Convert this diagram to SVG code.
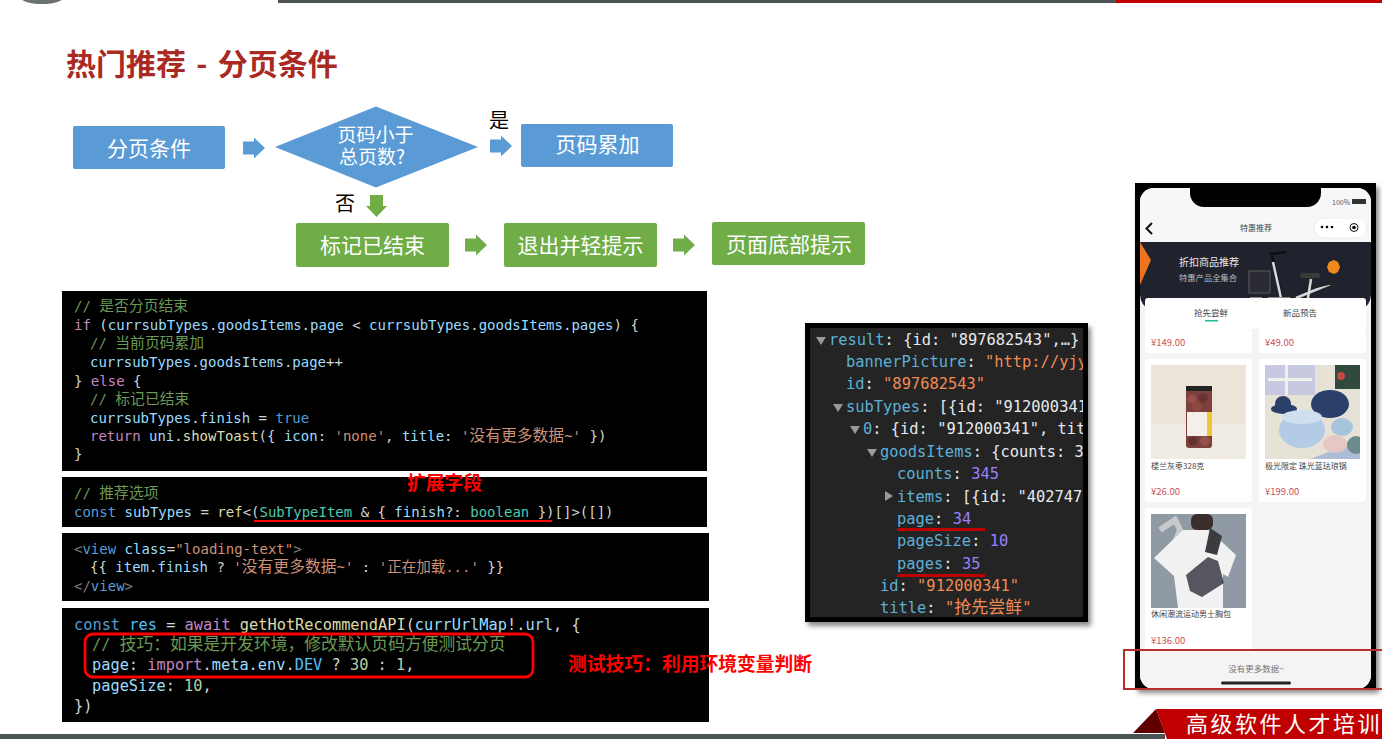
<svg xmlns="http://www.w3.org/2000/svg" width="1382" height="739" viewBox="0 0 1382 739">
<style>
text{font-family:"Noto Sans CJK SC","Noto Sans",sans-serif}
.b{fill:#5b9bd5}.g{fill:#70ad47}
.l{fill:#fff;font-size:21px;text-anchor:middle}
.c,.d{fill:#d4d4d4}
.c text,.d text{font-family:"DejaVu Sans Mono","Noto Sans CJK SC",monospace}
.c1 text{font-size:14px}.c3 text{font-size:15.300px}
.d text{font-size:15.400px}
.z1{font-size:14.800px}.z2{font-size:15.800px}.z3{font-size:14.500px}.z4{font-size:16.800px}.z5{font-size:17px}
.cm{fill:#6a9955}.v{fill:#9cdcfe}.k{fill:#c586c0}.s{fill:#ce9178}.bl{fill:#569cd6}.t{fill:#4ec9b0}.f{fill:#dcdcaa}.n{fill:#b5cea8}.vb{fill:#4fc1ff}.gr{fill:#808080}
.dk{fill:#5db0d7}.ds{fill:#f28b54}.dn{fill:#9980ff}.dw{fill:#e8eaed}
.red{fill:#f00;font-size:18.800px;font-weight:700}
.ph{font-size:8px;fill:#444}.pr{font-size:9.500px;fill:#cf4f55}
.arrowb{fill:#5b9bd5}
</style>
<defs>
<path id="ar" d="M0 -6.500H11V-10.500L22 0L11 10.500V6.500H0Z"/>
<filter id="sh" x="-10%" y="-10%" width="120%" height="120%"><feGaussianBlur stdDeviation="2.500"/></filter>
<filter id="soft" x="-5%" y="-5%" width="110%" height="110%"><feGaussianBlur stdDeviation="0.700"/></filter>
<clipPath id="dc"><rect x="810" y="328" width="273" height="289"/></clipPath>
<clipPath id="bc"><path d="M1140 242H1371V295a18 18 0 0 1 -10 15H1150a18 18 0 0 1 -10-15Z"/></clipPath>
<clipPath id="i1"><rect x="1151" y="365" width="95" height="94"/></clipPath>
<clipPath id="i2"><rect x="1265" y="365" width="95" height="94"/></clipPath>
<clipPath id="i3"><rect x="1151" y="514" width="95" height="94"/></clipPath>
</defs>
<rect width="1382" height="739" fill="#fff"/>
<g id="top-bar"><ellipse cx="42" cy="-4" rx="23" ry="8" fill="#6b7070"/><rect x="278" width="838" height="3" fill="#4d5454"/><rect x="1116" width="266" height="3" fill="#c00000"/></g>
<text id="title" x="66" y="75" font-size="30" font-weight="700" word-spacing="3.500" fill="#a92a22">热门推荐 - 分页条件</text>

<g id="connectors">
<use href="#ar" class="b" x="243" y="148"/>
<use href="#ar" class="b" x="490" y="146"/>
<use href="#ar" class="g" transform="translate(376.500,195) rotate(90)"/>
<use href="#ar" class="g" x="465" y="245"/>
<use href="#ar" class="g" x="673" y="245"/>
</g>
<g id="n-cond"><rect class="b" x="73" y="126" width="152" height="43" rx="2"/><text class="l" x="149" y="155.500">分页条件</text></g>
<g id="n-decision"><path class="b" d="M275 147L376 106.500L478 147L376 187.500Z"/><text class="l" style="font-size:19px"><tspan x="375.500" y="141.500">页码小于</tspan><tspan x="372" y="164">总页数?</tspan></text></g>
<g id="n-inc"><rect class="b" x="521" y="124" width="152" height="43" rx="2"/><text class="l" x="597.500" y="151.500">页码累加</text></g>
<g id="n-mark"><rect class="g" x="296" y="223" width="153" height="44" rx="2"/><text class="l" x="372.500" y="252.500">标记已结束</text></g>
<g id="n-exit"><rect class="g" x="504" y="223" width="153" height="44" rx="2"/><text class="l" x="580.500" y="252.500">退出并轻提示</text></g>
<g id="n-bottom"><rect class="g" x="712" y="222" width="153" height="43" rx="2"/><text class="l" x="789" y="251.500">页面底部提示</text></g>
<text id="yes" x="499" y="128" font-size="20" text-anchor="middle">是</text>
<text id="no" x="345" y="211" font-size="20" text-anchor="middle">否</text>

<g id="code-1" class="c c1"><rect x="62" y="291" width="645" height="180" fill="#000"/>
<text x="74" y="311" class="cm">// <tspan class="z1">是否分页结束</tspan></text>
<text x="74" y="330"><tspan class="k">if</tspan> (<tspan class="v">currsubTypes</tspan>.<tspan class="v">goodsItems</tspan>.<tspan class="v">page</tspan> &lt; <tspan class="v">currsubTypes</tspan>.<tspan class="v">goodsItems</tspan>.<tspan class="v">pages</tspan>) {</text>
<text x="90" y="348" class="cm">// <tspan class="z1">当前页码累加</tspan></text>
<text x="90" y="367"><tspan class="v">currsubTypes</tspan>.<tspan class="v">goodsItems</tspan>.<tspan class="v">page</tspan>++</text>
<text x="74" y="386">} <tspan class="k">else</tspan> {</text>
<text x="90" y="404" class="cm">// <tspan class="z1">标记已结束</tspan></text>
<text x="90" y="423"><tspan class="v">currsubTypes</tspan>.<tspan class="v">finish</tspan> = <tspan class="bl">true</tspan></text>
<text x="90" y="441"><tspan class="k">return</tspan> <tspan class="v">uni</tspan>.<tspan class="f">showToast</tspan>({ <tspan class="v">icon</tspan>: <tspan class="s">'none'</tspan>, <tspan class="v">title</tspan>: <tspan class="s">'<tspan class="z2">没有更多数据</tspan>~'</tspan> })</text>
<text x="74" y="459">}</text></g>

<g id="code-2" class="c c1"><rect x="62" y="477" width="645" height="50" fill="#000"/>
<text x="74" y="498" class="cm">// <tspan class="z1">推荐选项</tspan></text>
<text x="74" y="517"><tspan class="bl">const</tspan> <tspan class="v">subTypes</tspan> = <tspan class="f">ref</tspan>&lt;(<tspan class="t">SubTypeItem</tspan> &amp; { <tspan class="v">finish</tspan>?: <tspan class="t">boolean</tspan> })[]&gt;([])</text>
<path d="M254 521H552" stroke="#f00" stroke-width="2" fill="none"/></g>

<g id="code-3" class="c c1"><rect x="62" y="533" width="647" height="68" fill="#000"/>
<text x="74" y="554"><tspan class="gr">&lt;</tspan><tspan class="bl">view</tspan> <tspan class="v">class</tspan>=<tspan class="s">"loading-text"</tspan><tspan class="gr">&gt;</tspan></text>
<text x="90" y="572">{{ <tspan class="v">item</tspan>.<tspan class="v">finish</tspan> ? <tspan class="s">'<tspan class="z2">没有更多数据</tspan>~'</tspan> : <tspan class="s">'<tspan class="z3">正在加载</tspan>...'</tspan> }}</text>
<text x="74" y="591"><tspan class="gr">&lt;/</tspan><tspan class="bl">view</tspan><tspan class="gr">&gt;</tspan></text></g>

<g id="code-4" class="c c3"><rect x="62" y="608" width="647" height="114" fill="#000"/>
<text x="74" y="630"><tspan class="bl">const</tspan> <tspan class="vb">res</tspan> = <tspan class="k">await</tspan> <tspan class="f">getHotRecommendAPI</tspan>(<tspan class="v">currUrlMap</tspan>!.<tspan class="v">url</tspan>, {</text>
<text x="92" y="650" class="cm">// <tspan class="z4">技巧：如果是开发环境，修改默认页码方便测试分页</tspan></text>
<text x="92" y="670"><tspan class="v">page</tspan>: <tspan class="k">import</tspan>.<tspan class="v">meta</tspan>.<tspan class="v">env</tspan>.<tspan class="vb">DEV</tspan> ? <tspan class="n">30</tspan> : <tspan class="n">1</tspan>,</text>
<text x="92" y="691"><tspan class="v">pageSize</tspan>: <tspan class="n">10</tspan>,</text>
<text x="74" y="711">})</text>
<rect x="85" y="634" width="448" height="43" rx="8" fill="none" stroke="#f00" stroke-width="2.800"/></g>

<text id="note-1" class="red" x="407" y="490">扩展字段</text>
<text id="note-2" class="red" x="568" y="671">测试技巧：利用环境变量判断</text>

<g id="devtools" class="d">
<rect x="808" y="327" width="283" height="299" fill="#888" filter="url(#sh)"/>
<rect x="805" y="323" width="283" height="299" fill="#000"/><rect x="810" y="328" width="273" height="289" fill="#242424"/>
<path d="M816 337h10l-5 8zM833 404h10l-5 8zM850 426h10l-5 8zM867 449h10l-5 8z" fill="#999"/><path d="M885 491v10l8-5z" fill="#999"/>
<g clip-path="url(#dc)">
<text x="829" y="345"><tspan class="dk">result</tspan><tspan class="dw">: {id: "897682543",…}</tspan></text>
<text x="846" y="367"><tspan class="dk">bannerPicture</tspan><tspan class="dw">: </tspan><tspan class="ds">"http://yjy</tspan></text>
<text x="846" y="389"><tspan class="dk">id</tspan><tspan class="dw">: </tspan><tspan class="ds">"897682543"</tspan></text>
<text x="846" y="412"><tspan class="dk">subTypes</tspan><tspan class="dw">: [{id: "912000341</tspan></text>
<text x="863" y="434"><tspan class="dk">0</tspan><tspan class="dw">: {id: "912000341", tit</tspan></text>
<text x="880" y="457"><tspan class="dk">goodsItems</tspan><tspan class="dw">: {counts: 3</tspan></text>
<text x="897" y="479"><tspan class="dk">counts</tspan><tspan class="dw">: </tspan><tspan class="dn">345</tspan></text>
<text x="897" y="502"><tspan class="dk">items</tspan><tspan class="dw">: [{id: "402747</tspan></text>
<text x="897" y="524"><tspan class="dk">page</tspan><tspan class="dw">: </tspan><tspan class="dn">34</tspan></text>
<text x="897" y="546"><tspan class="dk">pageSize</tspan><tspan class="dw">: </tspan><tspan class="dn">10</tspan></text>
<text x="897" y="569"><tspan class="dk">pages</tspan><tspan class="dw">: </tspan><tspan class="dn">35</tspan></text>
<text x="880" y="591"><tspan class="dk">id</tspan><tspan class="dw">: </tspan><tspan class="ds">"912000341"</tspan></text>
<text x="880" y="613"><tspan class="dk">title</tspan><tspan class="dw">: </tspan><tspan class="ds">"<tspan class="z5">抢先尝鲜</tspan>"</tspan></text>
</g>
<path d="M897 529.500H985M897 575.500H985" stroke="#c00000" stroke-width="3"/>
</g>

<g id="phone">
<rect x="1138" y="187" width="241" height="506" fill="#888" filter="url(#sh)"/>
<rect x="1135" y="183" width="241" height="507" fill="#000"/>
<rect x="1140" y="188" width="231" height="501" rx="14" fill="#f4f4f4"/>
<path d="M1140 242V202a14 14 0 0 1 14-14H1357a14 14 0 0 1 14 14V242Z" fill="#f7f7f7"/>
<path d="M1190 188H1321V193a14 14 0 0 1 -14 14H1204a14 14 0 0 1 -14-14Z" fill="#000"/>
<text x="1332" y="205" font-size="7" fill="#555">100%</text><rect x="1352" y="199" width="14" height="5" fill="#333"/>
<path d="M1152 223l-5.500 5.500l5.500 5.500" stroke="#111" stroke-width="2" fill="none"/>
<text x="1256" y="231" font-size="8" fill="#444" text-anchor="middle">特惠推荐</text>
<rect x="1314" y="218" width="53" height="20" rx="10" fill="#fff" stroke="#eee"/>
<circle cx="1322" cy="227" r="1.300"/><circle cx="1327" cy="227" r="1.300"/><circle cx="1332" cy="227" r="1.300"/>
<circle cx="1354" cy="227.500" r="4" fill="none" stroke="#111"/><circle cx="1354" cy="227.500" r="1.800"/>
<path d="M1140 242H1371V295a18 18 0 0 1 -10 15H1150a18 18 0 0 1 -10-15Z" fill="#20232e"/>
<path d="M1140 242L1151 260L1140 285Z" fill="#f0731d"/>
<text x="1179" y="266" font-size="10" fill="#e8e8e8">折扣商品推荐</text>
<text x="1179" y="281" font-size="8.300" fill="#bbb">特惠产品全集合</text>
<g clip-path="url(#bc)" filter="url(#soft)">
<rect x="1249" y="271" width="21" height="22" fill="#2c2c30" stroke="#666" stroke-width="0.800"/>
<path d="M1270 254L1286 252M1272 256L1282 298" stroke="#111" stroke-width="2.500" fill="none"/>
<path d="M1273 262L1281 298M1311 279L1308 298M1296 298L1330 284" stroke="#d8d8d8" stroke-width="2.500" fill="none"/>
<path d="M1268 298H1290M1250 298H1262" stroke="#888" stroke-width="2" fill="none"/>
<rect x="1300" y="273" width="20" height="5" rx="2.500" fill="#3a3a3a"/><path d="M1314 287L1335 282" stroke="#222" stroke-width="3"/>
</g>
<path d="M1329 262l5 -2l4 2l2 5l-2 5l-4 2l-5 -2l-2 -5Z" fill="#f0881d"/>
<g fill="#fff"><rect x="1145" y="298" width="221" height="31" rx="3"/>
<rect x="1145" y="329" width="107" height="24" rx="3"/><rect x="1259" y="329" width="107" height="24" rx="3"/>
<rect x="1145" y="359" width="107" height="143" rx="3"/><rect x="1259" y="359" width="107" height="143" rx="3"/>
<rect x="1145" y="508" width="107" height="142" rx="3"/></g>
<text x="1211" y="316" font-size="8.500" fill="#444" text-anchor="middle">抢先尝鲜</text>
<text x="1300" y="316" font-size="8.500" fill="#444" text-anchor="middle">新品预告</text>
<rect x="1205" y="320" width="13" height="1.500" fill="#27ba9b"/>
<text class="pr" x="1151" y="346">¥149.00</text><text class="pr" x="1265" y="346">¥49.00</text>
<g clip-path="url(#i1)"><g filter="url(#soft)">
<rect x="1151" y="365" width="95" height="94" fill="#ece4d9"/><rect x="1151" y="424" width="95" height="35" fill="#f0ece3"/>
<rect x="1186" y="387" width="26" height="61" rx="3" fill="#7c3f3d"/>
<circle cx="1192" cy="399" r="4.500" fill="#9a4f4c"/><circle cx="1203" cy="398" r="4.500" fill="#663030"/><circle cx="1197" cy="407" r="5" fill="#8e4845"/><circle cx="1193" cy="441" r="4.500" fill="#5f302e"/><circle cx="1205" cy="441" r="5" fill="#96504c"/>
<rect x="1186" y="386" width="26" height="5" fill="#222"/><rect x="1187" y="412" width="25" height="24" fill="#f2f0e8"/><rect x="1207" y="412" width="5" height="24" fill="#f2c630"/>
</g></g>
<g clip-path="url(#i2)"><g filter="url(#soft)">
<rect x="1265" y="365" width="95" height="94" fill="#e6e2d6"/><rect x="1265" y="365" width="50" height="30" fill="#c6c9e0"/><rect x="1268" y="378" width="44" height="3" fill="#f2f0ea"/><rect x="1285" y="365" width="3" height="30" fill="#f2f0ea"/><rect x="1335" y="365" width="25" height="24" fill="#31493c"/><circle cx="1341" cy="376" r="4" fill="#c2483f"/>
<path d="M1310 459L1360 440V459Z" fill="#aebdd6"/>
<ellipse cx="1284" cy="409" rx="13" ry="5" fill="#2c3f6b"/><ellipse cx="1283" cy="404" rx="8" ry="8" fill="#2c3f6b"/>
<ellipse cx="1330" cy="404" rx="19" ry="14" fill="#2c3f6b"/><ellipse cx="1302" cy="430" rx="23" ry="18" fill="#b4cbe6"/><ellipse cx="1302" cy="417" rx="20" ry="7" fill="#cfdff0"/>
<ellipse cx="1342" cy="427" rx="11" ry="9" fill="#a6c5dc"/><ellipse cx="1335" cy="444" rx="12" ry="9" fill="#e5c7c3"/><ellipse cx="1356" cy="445" rx="9" ry="9" fill="#6d8a8c"/>
</g></g>
<text class="ph" x="1151" y="469">楼兰灰枣328克</text><text class="ph" x="1265" y="469">极光限定 珠光蓝珐琅锅</text>
<text class="pr" x="1151" y="495">¥26.00</text><text class="pr" x="1265" y="495">¥199.00</text>
<g clip-path="url(#i3)"><g filter="url(#soft)">
<rect x="1151" y="514" width="95" height="94" fill="#8f9aa4"/>
<path d="M1160 530L1175 520L1180 530L1172 550" stroke="#c7c9cb" stroke-width="6" fill="none"/>
<path d="M1183 530h26l27 25l-8 22l-5-3v34h-45l-4-32l-20-18Z" fill="#f1f1f1"/>
<path d="M1210 528L1222 536L1217 555L1205 552Z" fill="#3a3a40"/>
<rect x="1191" y="514" width="22" height="16" rx="6" fill="#3a2f2b"/>
<path d="M1186 575l22-18l10 4l6 22l-22 14l-12-6Z" fill="#54565e"/>
</g></g>
<text class="ph" x="1151" y="617">休闲潮流运动男士胸包</text>
<text class="pr" x="1151" y="644">¥136.00</text>
<path d="M1140 650H1371V675a14 14 0 0 1 -14 14H1154a14 14 0 0 1 -14-14Z" fill="#f4f4f4"/>
<text x="1256" y="672" font-size="8.500" fill="#777" text-anchor="middle">没有更多数据~</text>
<rect x="1221" y="681.500" width="70" height="3" rx="1.500" fill="#222"/>
<rect x="1124" y="650" width="262" height="39" fill="none" stroke="#b8302e" stroke-width="2"/>
</g>

<g id="footer">
<rect y="734" width="1165" height="5" fill="#4d5454"/>
<path d="M1133 733L1156 709L1165 733Z" fill="#5e0000"/>
<path d="M1156 709H1382V739H1167Z" fill="#c00000"/>
<text x="1186" y="732" font-size="22" letter-spacing="2.500" fill="#fff">高级软件人才培训</text>
</g>
</svg>
